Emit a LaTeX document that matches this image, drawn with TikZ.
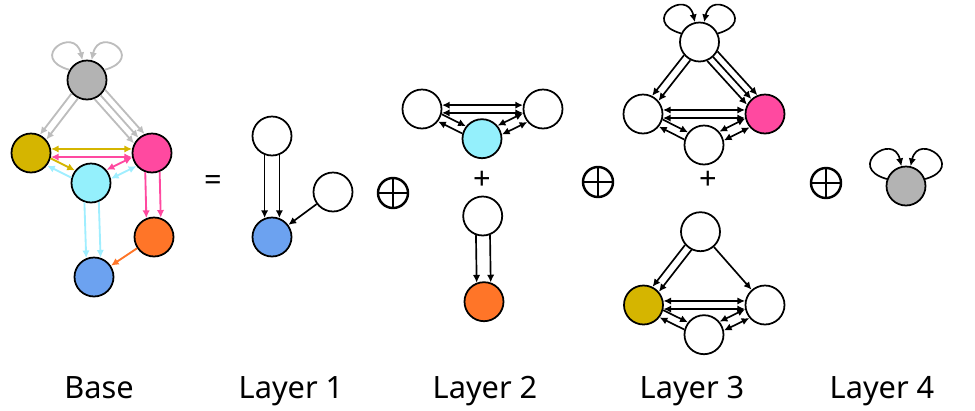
\documentclass[tikz,border=0pt]{standalone}
\usepackage{fontspec}
\setmainfont{Noto Sans}
\usepackage{tikz}
\usetikzlibrary{arrows.meta}
\usetikzlibrary{calc}

\definecolor{cgray}{HTML}{B3B3B3}
\definecolor{cline}{HTML}{BDBDBD}
\definecolor{cyel}{HTML}{D5B500}
\definecolor{cpink}{HTML}{FF49A0}
\definecolor{ccyan}{HTML}{94F0FC}
\definecolor{ccyanl}{HTML}{A0EEFF}
\definecolor{corange}{HTML}{FF7528}
\definecolor{cblue}{HTML}{6CA2F0}

% node radius in pt (with half the outline)
\def\rad{11.6}
% parallel edge: style, from, to, offset in pt
\newcommand{\pedge}[4]{%
    \pgfmathsetmacro{\shrt}{sqrt(\rad*\rad-(#4)*(#4))}%
    \draw [#1,shorten <=\shrt pt,shorten >=\shrt pt]
        ($(#2)!#4pt!90:(#3)$) -- ($(#3)!#4pt!-90:(#2)$);}

\begin{document}
\begin{tikzpicture}[x=0.02cm,y=0.02cm,
    vtx/.style={circle,draw,line width=1pt,minimum size=0.78cm,inner sep=0pt,fill=white},
    arr/.style={-{Latex[length=4.4pt,width=4.2pt]},line width=0.95pt},
    bi/.style={{Latex[length=4.4pt,width=4.2pt]}-{Latex[length=4.4pt,width=4.2pt]},line width=0.95pt},
    base/.style={line width=1.05pt},
    oplus/.style={circle,draw,line width=1.4pt,minimum size=0.6cm,inner sep=0pt,
        path picture={\draw [line width=1.4pt]
            (path picture bounding box.north) -- (path picture bounding box.south)
            (path picture bounding box.west) -- (path picture bounding box.east);}},
    sym/.style={font=\fontsize{17.5}{20}\selectfont\bfseries},
    lbl/.style={font=\fontsize{17.5}{20}\selectfont,anchor=base}]
        \useasboundingbox (0,0) rectangle (975,-410);

        % Base
        \node [vtx,fill=cgray]   (bg) at (87,-80)   {};
        \node [vtx,fill=cyel]    (by) at (31,-153)  {};
        \node [vtx,fill=cpink]   (bp) at (152,-153) {};
        \node [vtx,fill=ccyan]   (bc) at (91,-183)  {};
        \node [vtx,fill=corange] (bo) at (154,-237) {};
        \node [vtx,fill=cblue]   (bb) at (94,-277)  {};

        \draw [arr,base,cline] (bg.150) .. controls +(-42,12) and +(-8,35) .. (bg.103);
        \draw [arr,base,cline] (bg.30) .. controls +(42,12) and +(8,35) .. (bg.77);
        \pedge{arr,base,cline}{bg}{by}{2.3}
        \pedge{arr,base,cline}{bg}{by}{-2.3}
        \pedge{arr,base,cline}{bg}{bp}{4}
        \pedge{arr,base,cline}{bg}{bp}{0}
        \pedge{arr,base,cline}{bg}{bp}{-4}
        \pedge{bi,base,cyel}{by}{bp}{2.3}
        \pedge{bi,base,cpink}{by}{bp}{-2.3}
        \pedge{arr,base,cyel}{by}{bc}{2.3}
        \pedge{arr,base,ccyanl}{bc}{by}{2.3}
        \pedge{bi,base,cpink}{bc}{bp}{2.8}
        \pedge{bi,base,ccyanl}{bc}{bp}{-2.8}
        \pedge{arr,base,cpink}{bp}{bo}{4.1}
        \pedge{arr,base,cpink}{bp}{bo}{-4.1}
        \pedge{arr,base,ccyanl}{bc}{bb}{4.1}
        \pedge{arr,base,ccyanl}{bc}{bb}{-4.1}
        \pedge{arr,base,corange}{bo}{bb}{0}

        \node [sym] (eq) at (213,-183.5) {=};

        % Layer 1
        \node [vtx] (a1) at (272,-136) {};
        \node [vtx] (c1) at (333,-192) {};
        \node [vtx,fill=cblue] (b1) at (272,-237) {};
        \pedge{arr}{a1}{b1}{4.2}
        \pedge{arr}{a1}{b1}{-4.2}
        \pedge{arr}{c1}{b1}{0}

        \node [oplus] (op1) at (393,-193) {};

        % Layer 2
        \node [vtx] (l2l) at (422,-109) {};
        \node [vtx] (l2r) at (543,-109) {};
        \node [vtx,fill=ccyan] (l2c) at (482,-138.7) {};
        \node [sym] (pl2) at (482,-180) {+};
        \node [vtx] (l2t) at (482.7,-216) {};
        \node [vtx,fill=corange] (l2o) at (484,-301.7) {};
        \pedge{bi}{l2l}{l2r}{2.2}
        \pedge{bi}{l2l}{l2r}{-2.2}
        \pedge{arr}{l2l}{l2c}{2.3}
        \pedge{arr}{l2c}{l2l}{2.3}
        \pedge{bi}{l2c}{l2r}{2.8}
        \pedge{bi}{l2c}{l2r}{-2.8}
        \pedge{arr}{l2t}{l2o}{4}
        \pedge{arr}{l2t}{l2o}{-4}

        \node [oplus] (op2) at (598,-182) {};

        % Layer 3, upper
        \node [vtx] (t3a) at (699.5,-42) {};
        \node [vtx] (t3l) at (643,-114) {};
        \node [vtx,fill=cpink] (t3p) at (765,-114) {};
        \node [vtx] (t3b) at (704,-145) {};
        \draw [arr] (t3a.155) .. controls +(-42,12) and +(-8,35) .. (t3a.103);
        \draw [arr] (t3a.25) .. controls +(42,12) and +(8,35) .. (t3a.77);
        \pedge{arr}{t3a}{t3l}{2.3}
        \pedge{arr}{t3a}{t3l}{-2.3}
        \pedge{arr}{t3a}{t3p}{4}
        \pedge{arr}{t3a}{t3p}{0}
        \pedge{arr}{t3a}{t3p}{-4}
        \pedge{bi}{t3l}{t3p}{2.3}
        \pedge{bi}{t3l}{t3p}{-2.3}
        \pedge{arr}{t3l}{t3b}{2.3}
        \pedge{arr}{t3b}{t3l}{2.3}
        \pedge{bi}{t3b}{t3p}{2.8}
        \pedge{bi}{t3b}{t3p}{-2.8}

        \node [sym] (pl3) at (708,-180.5) {+};

        % Layer 3, lower
        \node [vtx] (u3a) at (700.5,-231.7) {};
        \node [vtx,fill=cyel] (u3y) at (643.5,-305) {};
        \node [vtx] (u3r) at (765,-305) {};
        \node [vtx] (u3b) at (704,-334.7) {};
        \pedge{arr}{u3a}{u3y}{2.3}
        \pedge{arr}{u3a}{u3y}{-2.3}
        \pedge{arr}{u3a}{u3r}{0}
        \pedge{bi}{u3y}{u3r}{2.3}
        \pedge{bi}{u3y}{u3r}{-2.3}
        \pedge{arr}{u3y}{u3b}{2.3}
        \pedge{arr}{u3b}{u3y}{2.3}
        \pedge{bi}{u3b}{u3r}{2.8}
        \pedge{bi}{u3b}{u3r}{-2.8}

        \node [oplus] (op3) at (826,-183) {};

        % Layer 4
        \node [vtx,fill=cgray] (g4) at (906,-186) {};
        \draw [arr] (g4.160) .. controls +(-42,12) and +(-8,35) .. (g4.103);
        \draw [arr] (g4.20) .. controls +(42,12) and +(8,35) .. (g4.77);

        % Labels
        \node [lbl] (lb0) at (99,-398)  {Base};
        \node [lbl] (lb1) at (291,-398) {Layer 1};
        \node [lbl] (lb2) at (485,-398) {Layer 2};
        \node [lbl] (lb3) at (692,-398) {Layer 3};
        \node [lbl] (lb4) at (882,-398) {Layer 4};
\end{tikzpicture}
\end{document}
